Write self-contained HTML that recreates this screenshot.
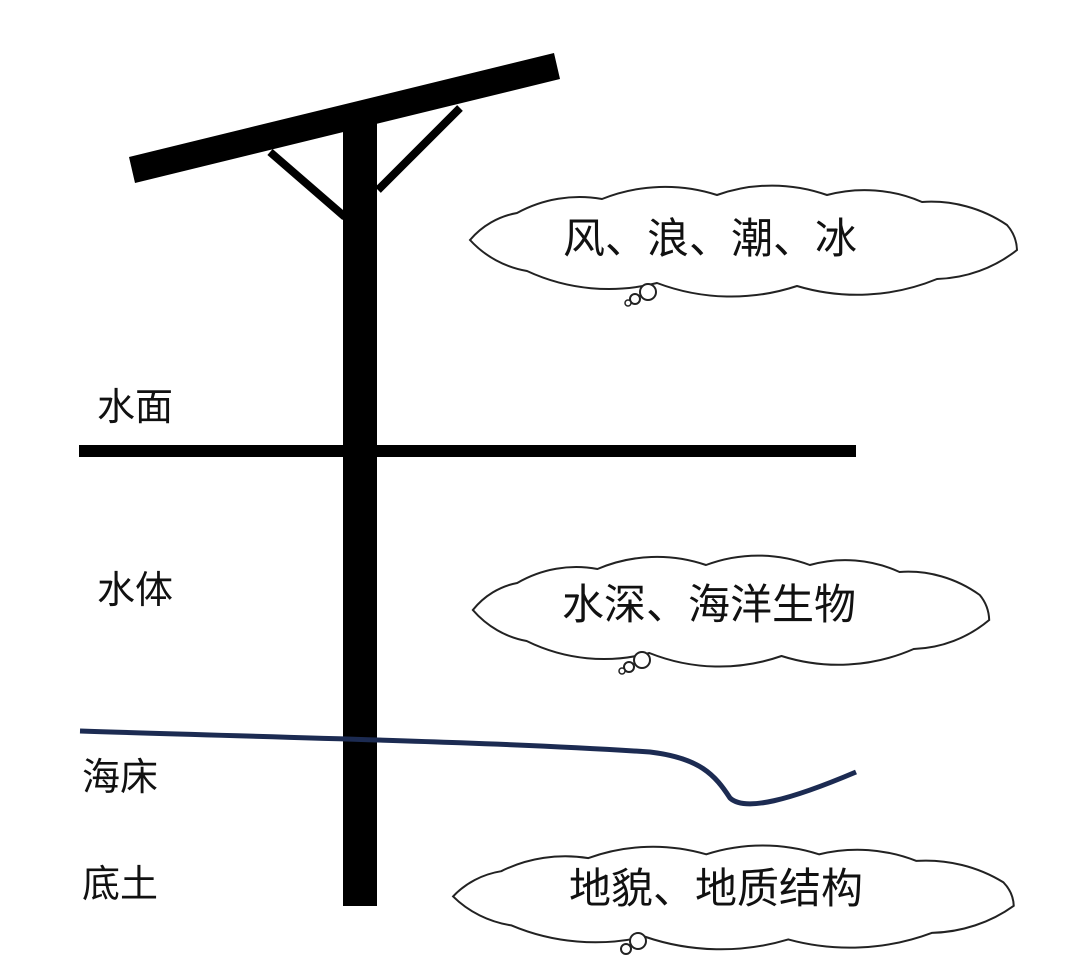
<!DOCTYPE html>
<html><head><meta charset="utf-8"><style>
html,body{margin:0;padding:0;background:#fff;}
svg{display:block;}
text{font-family:"Liberation Sans","Noto Sans CJK SC",sans-serif;fill:#111;}
</style></head><body>
<svg width="1080" height="956" viewBox="0 0 1080 956" xmlns="http://www.w3.org/2000/svg">
<defs>
<path id="cl" d="M3,55 A80,80 0 0 1 50,28 A130,130 0 0 1 135,14 A170,170 0 0 1 250,10 A165,165 0 0 1 360,10 A145,145 0 0 1 455,17 A135,135 0 0 1 540,40 A40,40 0 0 1 550,65 A135,135 0 0 1 470,94 A210,210 0 0 1 330,101 A210,210 0 0 1 190,98 A195,195 0 0 1 60,86 A100,100 0 0 1 3,55 Z" fill="#fff" stroke="#222" stroke-width="2" vector-effect="non-scaling-stroke"/>
</defs>
<polygon points="129,157 135,183 560,79 554,53" fill="#000"/>
<line x1="270" y1="152" x2="345" y2="217" stroke="#000" stroke-width="8"/>
<line x1="460" y1="108" x2="378" y2="190" stroke="#000" stroke-width="8"/>
<rect x="343" y="115" width="34" height="791" fill="#000"/>
<rect x="79" y="445" width="777" height="12" fill="#000"/>
<path d="M80,731 C300,738 500,742 650,752 C700,758 715,775 730,798 C745,812 790,800 856,772" fill="none" stroke="#1c2b52" stroke-width="5"/>
<text x="97" y="420" font-size="38">水面</text>
<text x="97" y="603" font-size="38">水体</text>
<text x="82" y="790" font-size="38">海床</text>
<text x="82" y="897" font-size="38">底土</text>

<use href="#cl" transform="translate(467,185)"/>
<circle cx="648" cy="292" r="8" fill="#fff" stroke="#222" stroke-width="2"/>
<circle cx="635" cy="299" r="5" fill="#fff" stroke="#222" stroke-width="2"/>
<circle cx="628" cy="303" r="3" fill="#fff" stroke="#222" stroke-width="1.5"/>
<text x="710" y="253" font-size="42" text-anchor="middle">风、浪、潮、冰</text>

<use href="#cl" transform="translate(470,555) scale(0.944,1)"/>
<circle cx="642" cy="660" r="8" fill="#fff" stroke="#222" stroke-width="2"/>
<circle cx="629" cy="667" r="5" fill="#fff" stroke="#222" stroke-width="2"/>
<circle cx="622" cy="671" r="3" fill="#fff" stroke="#222" stroke-width="1.5"/>
<text x="709" y="619" font-size="42" text-anchor="middle">水深、海洋生物</text>

<use href="#cl" transform="translate(450,845) scale(1.025,0.935)"/>
<circle cx="638" cy="941" r="8" fill="#fff" stroke="#222" stroke-width="2"/>
<circle cx="626" cy="949" r="5" fill="#fff" stroke="#222" stroke-width="2"/>
<text x="716" y="903" font-size="42" text-anchor="middle">地貌、地质结构</text>
</svg>
</body></html>
